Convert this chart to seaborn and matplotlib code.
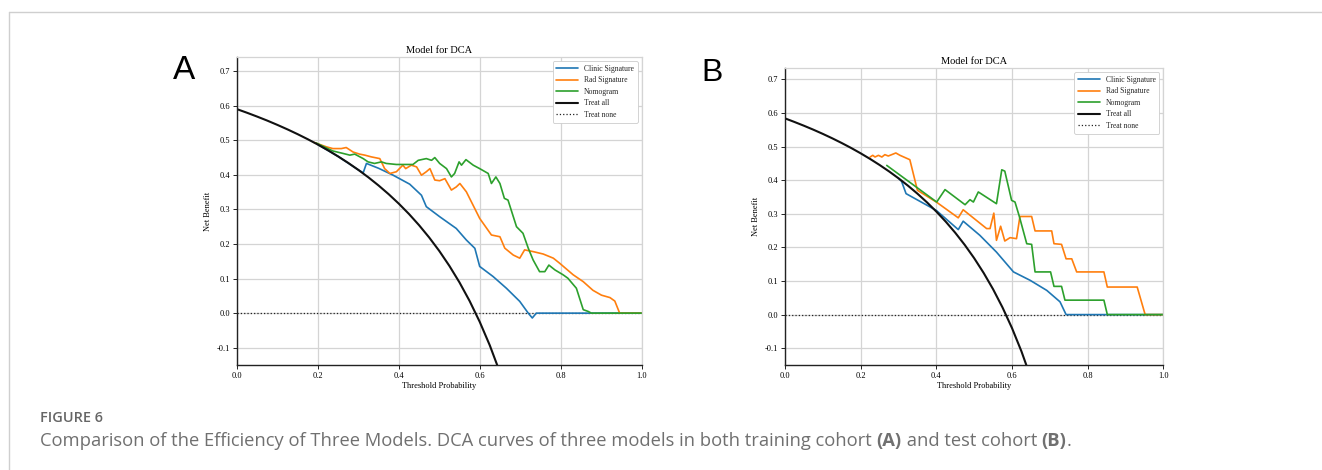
import numpy as np
import pandas as pd
import matplotlib
matplotlib.use("Agg")
import matplotlib.pyplot as plt
from matplotlib.lines import Line2D
import seaborn as sns

# ---------------- data: panel A (training cohort) ----------------
a_all_x = [0.000, 0.025, 0.050, 0.075, 0.100, 0.125, 0.150, 0.175, 0.200, 0.225,
           0.250, 0.275, 0.300, 0.325, 0.350, 0.375, 0.400, 0.425, 0.450, 0.475,
           0.500, 0.525, 0.550, 0.575, 0.600, 0.625, 0.650]
a_all_y = [0.5900, 0.5795, 0.5684, 0.5568, 0.5444, 0.5314, 0.5176, 0.5030, 0.4875, 0.4710,
           0.4533, 0.4345, 0.4143, 0.3926, 0.3692, 0.3440, 0.3167, 0.2870, 0.2545, 0.2190,
           0.1800, 0.1368, 0.0889, 0.0353, -0.0250, -0.0933, -0.1714]

a_clinic_x = [0.200, 0.250, 0.300, 0.312, 0.320, 0.350, 0.386, 0.427, 0.456, 0.468,
              0.501, 0.542, 0.567, 0.588, 0.600, 0.633, 0.666, 0.699, 0.720, 0.730,
              0.740, 1.000]
a_clinic_y = [0.4875, 0.4533, 0.4143, 0.406, 0.433, 0.419, 0.399, 0.373, 0.341, 0.308,
              0.279, 0.245, 0.2115, 0.1875, 0.135, 0.106, 0.072, 0.034, 0.000, -0.014,
              0.000, 0.000]

a_rad_x = [0.190, 0.221, 0.237, 0.258, 0.270, 0.287, 0.303, 0.316, 0.332, 0.353,
           0.365, 0.378, 0.394, 0.410, 0.417, 0.431, 0.444, 0.456, 0.468, 0.477,
           0.489, 0.501, 0.514, 0.530, 0.542, 0.551, 0.567, 0.600, 0.629, 0.650,
           0.662, 0.683, 0.699, 0.711, 0.732, 0.757, 0.782, 0.798, 0.831, 0.856,
           0.880, 0.901, 0.922, 0.934, 0.946, 1.000]
a_rad_y = [0.494, 0.481, 0.476, 0.476, 0.479, 0.466, 0.460, 0.457, 0.452, 0.447,
           0.418, 0.404, 0.409, 0.428, 0.418, 0.428, 0.423, 0.399, 0.409, 0.418,
           0.385, 0.383, 0.389, 0.356, 0.365, 0.375, 0.351, 0.274, 0.226, 0.221,
           0.188, 0.168, 0.159, 0.183, 0.178, 0.171, 0.159, 0.144, 0.111, 0.091,
           0.066, 0.052, 0.045, 0.035, 0.000, 0.000]

a_nomo_x = [0.196, 0.237, 0.262, 0.279, 0.291, 0.312, 0.324, 0.340, 0.357, 0.369,
            0.394, 0.435, 0.448, 0.468, 0.481, 0.489, 0.501, 0.518, 0.530, 0.538,
            0.549, 0.555, 0.566, 0.584, 0.600, 0.621, 0.629, 0.640, 0.650, 0.661,
            0.670, 0.691, 0.707, 0.720, 0.732, 0.748, 0.761, 0.771, 0.786, 0.806,
            0.818, 0.839, 0.856, 0.868, 0.876, 1.000]
a_nomo_y = [0.492, 0.469, 0.462, 0.457, 0.460, 0.447, 0.4375, 0.433, 0.4375, 0.433,
            0.430, 0.430, 0.442, 0.447, 0.442, 0.450, 0.433, 0.418, 0.394, 0.404,
            0.4375, 0.428, 0.444, 0.428, 0.418, 0.404, 0.375, 0.394, 0.375, 0.332,
            0.327, 0.250, 0.231, 0.188, 0.154, 0.120, 0.120, 0.139, 0.125, 0.111,
            0.101, 0.072, 0.010, 0.005, 0.000, 0.000]

# ---------------- data: panel B (test cohort) ----------------
b_all_x = a_all_x
b_all_y = [0.5840, 0.5733, 0.5621, 0.5503, 0.5378, 0.5246, 0.5106, 0.4958, 0.4800, 0.4632,
           0.4453, 0.4262, 0.4057, 0.3837, 0.3600, 0.3344, 0.3067, 0.2765, 0.2436, 0.2076,
           0.1680, 0.1242, 0.0756, 0.0212, -0.0400, -0.1093, -0.1886]

b_clinic_x = [0.300, 0.308, 0.320, 0.360, 0.400, 0.458, 0.471, 0.515, 0.559, 0.604,
              0.648, 0.692, 0.727, 0.743, 1.000]
b_clinic_y = [0.4057, 0.397, 0.360, 0.335, 0.310, 0.253, 0.278, 0.236, 0.186, 0.127,
              0.102, 0.072, 0.038, 0.000, 0.000]

b_rad_x = [0.225, 0.232, 0.238, 0.247, 0.256, 0.264, 0.273, 0.282, 0.293, 0.304,
           0.330, 0.350, 0.400, 0.458, 0.471, 0.533, 0.542, 0.552, 0.559, 0.570,
           0.581, 0.595, 0.612, 0.621, 0.652, 0.661, 0.705, 0.711, 0.731, 0.743,
           0.758, 0.771, 0.843, 0.852, 0.931, 0.952, 1.000]
b_rad_y = [0.469, 0.474, 0.469, 0.474, 0.469, 0.476, 0.472, 0.476, 0.481, 0.474,
           0.461, 0.370, 0.335, 0.288, 0.312, 0.256, 0.256, 0.302, 0.221, 0.263,
           0.219, 0.229, 0.226, 0.292, 0.292, 0.249, 0.249, 0.211, 0.209, 0.166,
           0.166, 0.127, 0.127, 0.082, 0.082, 0.000, 0.000]

b_nomo_x = [0.269, 0.401, 0.423, 0.476, 0.489, 0.498, 0.511, 0.559, 0.573, 0.581,
            0.599, 0.608, 0.620, 0.639, 0.652, 0.661, 0.702, 0.711, 0.731, 0.740,
            0.843, 0.852, 1.000]
b_nomo_y = [0.444, 0.335, 0.372, 0.327, 0.342, 0.335, 0.365, 0.330, 0.431, 0.427,
            0.340, 0.335, 0.290, 0.211, 0.209, 0.127, 0.127, 0.084, 0.084, 0.043,
            0.043, 0.000, 0.000]

none_x = [0.0, 1.0]
none_y = [0.0, 0.0]

series_names = ["Clinic Signature", "Rad Signature", "Nomogram", "Treat all", "Treat none"]
x_ticks = [0.0, 0.2, 0.4, 0.6, 0.8, 1.0]
y_ticks = [-0.1, 0.0, 0.1, 0.2, 0.3, 0.4, 0.5, 0.6, 0.7]

# ---------------- style ----------------
sns.set_theme(style="whitegrid")
plt.rcParams['font.family'] = ['Liberation Serif', 'DejaVu Serif']
plt.rcParams['axes.unicode_minus'] = False

W, H = 1322, 470
fig = plt.figure(figsize=(W / 100, H / 100), dpi=100)
fig.patch.set_facecolor('white')

COLORS = ['#1f77b4', '#ff7f0e', '#2ca02c']


def px_axes(l, t, r, b):
    return fig.add_axes([l / W, 1 - b / H, (r - l) / W, (b - t) / H])


def draw_panel(ax, models, all_x, all_y, ytop):
    for (name, xs, ys), c in zip(models, COLORS):
        df = pd.DataFrame({'x': xs, 'y': ys})
        sns.lineplot(data=df, x='x', y='y', ax=ax, color=c, lw=1.2,
                     sort=False, estimator=None, label=name, zorder=2)
    df = pd.DataFrame({'x': all_x, 'y': all_y})
    sns.lineplot(data=df, x='x', y='y', ax=ax, color='#111111', lw=1.5,
                 sort=False, estimator=None, label=series_names[3], zorder=2.5)
    df = pd.DataFrame({'x': none_x, 'y': none_y})
    sns.lineplot(data=df, x='x', y='y', ax=ax, color='#222222', lw=0.9, ls=':',
                 sort=False, estimator=None, label=series_names[4], zorder=1.5)
    ax.set_xlim(0, 1)
    ax.set_ylim(-0.15, ytop)
    ax.set_xticks(x_ticks)
    ax.set_yticks(y_ticks)
    ax.set_xticklabels([f"{v:.1f}" for v in x_ticks])
    ax.set_yticklabels([f"{v:.1f}" for v in y_ticks])
    ax.tick_params(axis='both', bottom=True, left=True, length=3, width=0.6,
                   pad=2, labelsize=6, colors='black', direction='out')
    ax.grid(True, color='#d4d4d4', lw=0.9)
    for s in ['left', 'bottom']:
        ax.spines[s].set_color('#222222')
        ax.spines[s].set_linewidth(1.0)
    for s in ['top', 'right']:
        ax.spines[s].set_color('#d4d4d4')
        ax.spines[s].set_linewidth(0.9)
    ax.set_xlabel('Threshold Probability', fontsize=6, labelpad=1.5, color='black')
    ax.set_ylabel('Net Benefit', fontsize=6, color='black')
    ax.set_title('Model for DCA', fontsize=7.5, pad=3, color='black')
    leg = ax.legend(loc='upper right', fontsize=5.5, frameon=True, fancybox=True,
                    framealpha=1, edgecolor='#cccccc', handlelength=2.8,
                    borderpad=0.5, labelspacing=0.45)
    leg.get_frame().set_linewidth(0.6)


axA = px_axes(237, 57.3, 641.5, 365)
draw_panel(axA, [(series_names[0], a_clinic_x, a_clinic_y),
                 (series_names[1], a_rad_x, a_rad_y),
                 (series_names[2], a_nomo_x, a_nomo_y)], a_all_x, a_all_y, 0.74)
axA.yaxis.set_label_coords(-25 / 404.5, 0.5)

axB = px_axes(785, 68.3, 1163.3, 365)
draw_panel(axB, [(series_names[0], b_clinic_x, b_clinic_y),
                 (series_names[1], b_rad_x, b_rad_y),
                 (series_names[2], b_nomo_x, b_nomo_y)], b_all_x, b_all_y, 0.733)
axB.yaxis.set_label_coords(-25 / 378.3, 0.5)

# panel letters
fig.text(183.7 / W, 1 - 79 / H, 'A', fontsize=24, family='Liberation Sans',
         ha='center', va='baseline', color='black')
fig.text(712 / W, 1 - 80.7 / H, 'B', fontsize=23, family='Liberation Sans',
         ha='center', va='baseline', color='black')

# border lines
fig.add_artist(Line2D([9 / W, 1.0], [1 - 12 / H, 1 - 12 / H], transform=fig.transFigure,
                      color='#cfcfcf', lw=1.0))
fig.add_artist(Line2D([9 / W, 9 / W], [1 - 12 / H, 0.0], transform=fig.transFigure,
                      color='#cfcfcf', lw=1.0))

renderer = fig.canvas.get_renderer()

# caption header, scaled so its width matches the reference (~63 px)
hdr = fig.text(40 / W, 1 - 421.5 / H, 'FIGURE 6', fontsize=8.4, family='Open Sans',
               weight='semibold', color='#666666', ha='left', va='baseline')
hw = hdr.get_window_extent(renderer=renderer).width
hdr.set_fontsize(8.4 * 63.0 / hw)

segments = [("Comparison of the Efficiency of Three Models. DCA curves of three models in both training cohort ", 'normal'),
            ("(A)", 'bold'),
            (" and test cohort ", 'normal'),
            ("(B)", 'bold'),
            (".", 'normal')]


def place_caption(fs):
    arts = []
    xpos = 40.0
    for txt, wt in segments:
        t = fig.text(xpos / W, 1 - 446 / H, txt, fontsize=fs, family='Open Sans',
                     weight=wt, color='#707070', ha='left', va='baseline')
        xpos += t.get_window_extent(renderer=renderer).width
        arts.append(t)
    return arts, xpos - 40.0


arts, total = place_caption(10.8)
for a in arts:
    a.remove()
place_caption(10.8 * 1033.0 / total)

fig.savefig('out.png', dpi=100, facecolor='white')
